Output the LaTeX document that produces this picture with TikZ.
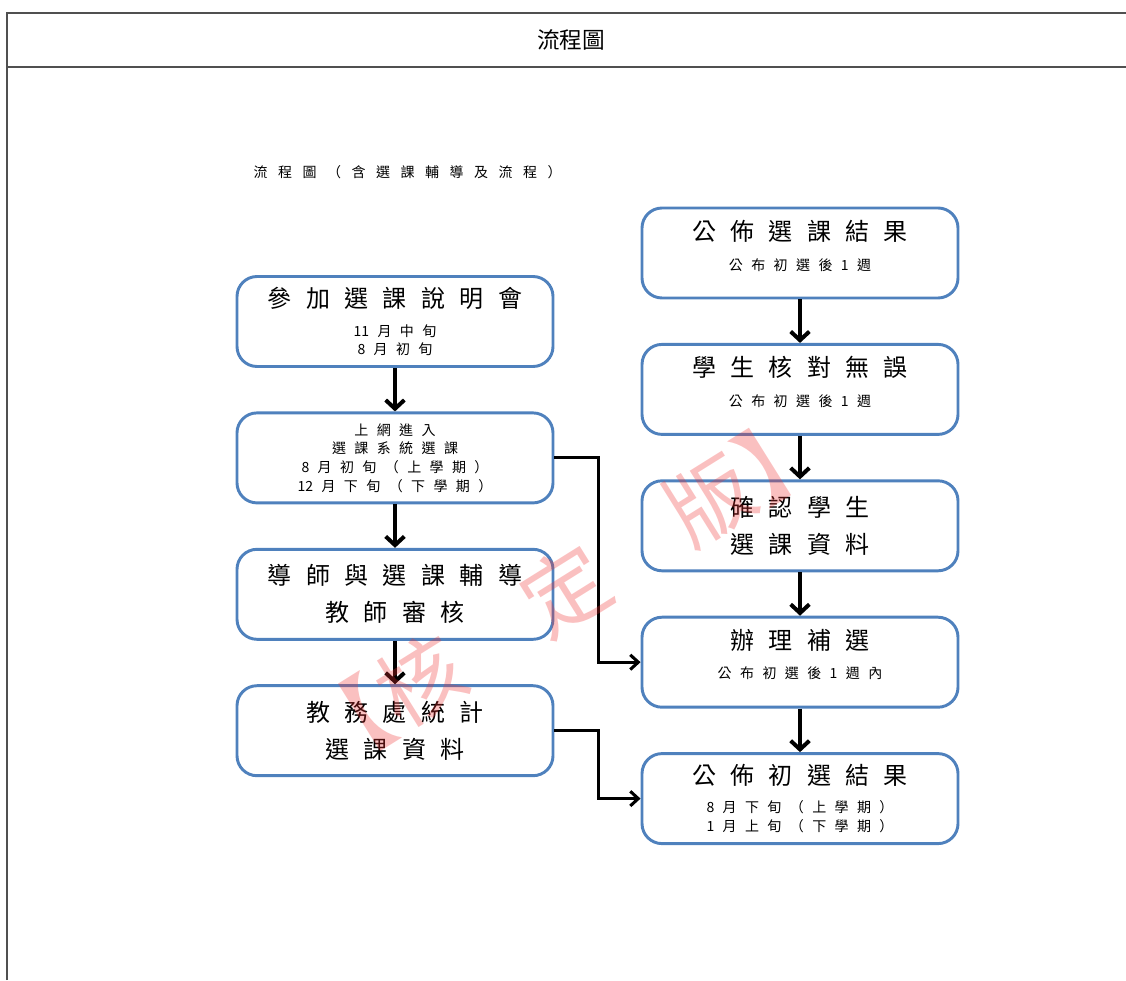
\documentclass[tikz,border=0pt]{standalone}
\usepackage{fontspec}
\newfontfamily\cjkplain{Noto Sans CJK TC}
\newfontfamily\cjkfont[LetterSpace=60]{Noto Sans CJK TC}
\newfontfamily\cjkwide[LetterSpace=75]{Noto Sans CJK TC}
\usepackage{xcolor}
\definecolor{Box Blue}{HTML}{4F81BD}
\definecolor{Frame Grey}{HTML}{505050}
\definecolor{Seal Red}{HTML}{F03030}
\colorlet{cBox}{Box Blue}
\colorlet{cFrame}{Frame Grey}
\colorlet{cSeal}{Seal Red}
\usepackage{tikz}
\usetikzlibrary{positioning, arrows.meta}
\newcommand{\tightlines}{\lineskiplimit-30pt\relax}
\newcommand{\headline}[1]{{\fontsize{18}{18}\selectfont #1}}
\newcommand{\tight}[1]{{\cjkplain #1}}
\tikzset{
	node distance = 32.6pt,
	stage/.style={
		draw=cBox,
		fill=white,
		line width=2.2pt,
		rounded corners=15pt,
		minimum width=237pt,
		minimum height=67.5pt,
		inner sep=0pt,
		align=center,
		font=\cjkfont\fontsize{10.5}{14}\selectfont\tightlines
	},
	two lines/.style={
		font=\cjkfont\fontsize{18}{27.75}\selectfont\tightlines
	},
	lifted/.style={
		text depth=12pt
	},
	flow/.style={
		-{Straight Barb[length=6.5pt,width=14pt]},
		line width=3pt
	},
	detour/.style={
		-{Straight Barb[length=6pt,width=11pt]},
		line width=2.3pt
	},
	frame/.style={
		draw=cFrame,
		line width=2pt
	},
	seal/.style={
		text=cSeal,
		text opacity=.3,
		rotate=32,
		font=\cjkplain\fontsize{64}{64}\selectfont
	}
}

\begin{document}
\begin{tikzpicture}[x=0.75pt, y=-0.75pt]
\useasboundingbox (0,0) rectangle (1126,980);
% ---
% page frame
% ---
\draw[frame] (7,980) -- (7,13) -- (1126,13);
\draw[frame] (7,67) -- (1126,67);
\node[font=\cjkplain\fontsize{17}{17}\selectfont] (head) at (571,40) {流程圖};
\node[anchor=west, font=\cjkwide\fontsize{10.5}{14}\selectfont] (caption) at (249,172) {流程圖（含選課輔導及流程）};

% ---
% left column
% ---
\node[stage] at (395,321.5) (b1) {\headline{參加選課說明會}\\[7.75pt]\tight{1}1月中旬\\8月初旬};
\node[stage, below=of b1] (b2) {上網進入\\選課系統選課\\8月初旬（上學期）\\\tight{1}2月下旬（下學期）};
\node[stage, two lines, below=of b2] (b3) {導師與選課輔導\\教師審核};
\node[stage, two lines, below=of b3] (b4) {教務處統計\\選課資料};

% ---
% right column
% ---
\node[stage, lifted] at (800,253) (r1) {\headline{公佈選課結果}\\[8.5pt]公布初選後1週};
\node[stage, lifted, below=of r1] (r2) {\headline{學生核對無誤}\\[8.5pt]公布初選後1週};
\node[stage, two lines, below=of r2] (r3) {確認學生\\選課資料};
\node[stage, lifted, below=of r3] (r4) {\headline{辦理補選}\\[7.75pt]公布初選後1週內};
\node[stage, below=of r4] (r5) {\headline{公佈初選結果}\\[7pt]8月下旬（上學期）\\1月上旬（下學期）};

\draw[flow] (b1) to (b2);
\draw[flow] (b2) to (b3);
\draw[flow] (b3) to (b4);
\draw[flow] (r1) to (r2);
\draw[flow] (r2) to (r3);
\draw[flow] (r3) to (r4);
\draw[flow] (r4) to (r5);
\draw[detour] (b2.east) -- ++(44,0) |- (r4.west);
\draw[detour] (b4.east) -- ++(44,0) |- (r5.west);

\node[seal] (stamp) at (565,590) {【核　定　版】};
\end{tikzpicture}
\end{document}
